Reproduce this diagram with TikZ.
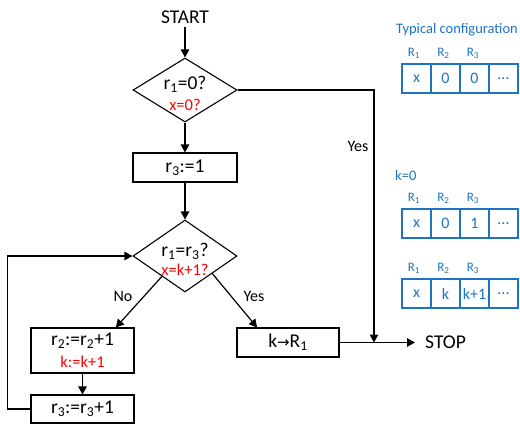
\documentclass[tikz,border=0pt]{standalone}
\usepackage{fontspec}
\setmainfont{Carlito}
\newfontfamily\symfont{DejaVu Sans}
\usetikzlibrary{shapes.geometric,arrows.meta,calc}
\definecolor{cblue}{RGB}{30,115,195}
\definecolor{cred}{RGB}{255,0,0}
\tikzset{
  arr/.style={-{Triangle[length=8pt,width=8.5pt]}, line width=1.2pt},
  dec/.style={diamond, draw, line width=1.1pt, inner sep=0pt, minimum width=104pt},
  procbox/.style={rectangle, draw, line width=1.1pt, inner sep=0pt},
  main/.style={font=\fontsize{19.5}{21}\selectfont, inner sep=0pt},
  redt/.style={font=\fontsize{16.5}{18}\selectfont, text=cred, inner sep=0pt},
  lbl/.style={font=\fontsize{16}{18}\selectfont, inner sep=0pt},
  cell/.style={rectangle, draw=cblue, line width=1.1pt, minimum width=29pt, minimum height=29pt, inner sep=0pt, text=cblue, font=\fontsize{16}{18}\selectfont},
  rl/.style={text=cblue, font=\fontsize{13}{15}\selectfont, inner sep=0pt},
  bt/.style={text=cblue, font=\fontsize{14.5}{16}\selectfont, inner sep=0pt}
}
\begin{document}
\begin{tikzpicture}[x=1pt,y=-1pt]
\useasboundingbox (0,0) rectangle (520,424);
% flow chart
\node[main, inner ysep=3pt] (start) at (185,17) {START};
\node[dec, minimum height=64pt] (d1) at (185,90) {};
\node[main] (d1t) at (185,84) {r\textsubscript{1}=0?};
\node[redt] (d1r) at (185,105) {x=0?};
\node[procbox, minimum width=104pt, minimum height=29pt, main] (b1) at (185,167.5) {r\textsubscript{3}:=1};
\node[dec, minimum height=72pt] (d2) at (185,256) {};
\node[main] (d2t) at (185,251) {r\textsubscript{1}=r\textsubscript{3}?};
\node[redt] (d2r) at (185,270) {x=k+1?};
\node[procbox, minimum width=103pt, minimum height=45pt] (b2) at (82.5,350.5) {};
\node[main] (b2t) at (82.5,340.5) {r\textsubscript{2}:=r\textsubscript{2}+1};
\node[redt] (b2r) at (82.5,362) {k:=k+1};
\node[procbox, minimum width=103pt, minimum height=28pt, main] (b3) at (82.5,409) {r\textsubscript{3}:=r\textsubscript{3}+1};
\node[procbox, minimum width=102pt, minimum height=29pt, main] (b4) at (288,342.5) {k{\symfont\fontsize{15}{17}\selectfont →}R\textsubscript{1}};
\node[main, anchor=west, inner xsep=10pt] (stop) at (415,342.5) {STOP};
\coordinate (j) at (374,342.5);
\node[lbl] (no) at (123,296) {No};
\node[lbl] (yes1) at (254,296) {Yes};
\node[lbl] (yes2) at (358,146) {Yes};
% connectors
\draw[arr] (start) -- (d1.north);
\draw[arr] (d1.south) -- (b1.north);
\draw[arr] (b1.south) -- (d2.north);
\draw[arr] ($(d2.west)!0.56!(d2.south)$) -- ($(b2.north west)!0.82!(b2.north east)$);
\draw[arr] ($(d2.east)!0.48!(d2.south)$) -- ($(b4.north west)!0.2!(b4.north east)$);
\draw[arr] (b2.south) -- (b3.north);
\draw[arr] (b3.west) -- ++(-23,0) |- (d2.west);
\draw[arr] (d1.east) -| (j);
\draw[arr] (b4.east) -- (stop.west);
% configurations
\node[bt] (title) at (457,30) {Typical configuration};
\foreach \r/\y/\a/\b/\c in {1/78.5/x/0/0, 2/223.5/x/0/1, 3/293.5/x/k/k+1}{
  \node[cell] (c\r a) at (416.5,\y) {\a};
  \node[cell] (c\r b) at (445.5,\y) {\b};
  \node[cell] (c\r c) at (474.5,\y) {\c};
  \node[cell] (c\r d) at (503.5,\y) {...};
  \node[rl] (l\r a) at (414,\y-25.5) {R\textsubscript{1}};
  \node[rl] (l\r b) at (443.5,\y-25.5) {R\textsubscript{2}};
  \node[rl] (l\r c) at (473,\y-25.5) {R\textsubscript{3}};
}
\node[bt, anchor=west] (k0) at (395,176) {k=0};
\end{tikzpicture}
\end{document}
